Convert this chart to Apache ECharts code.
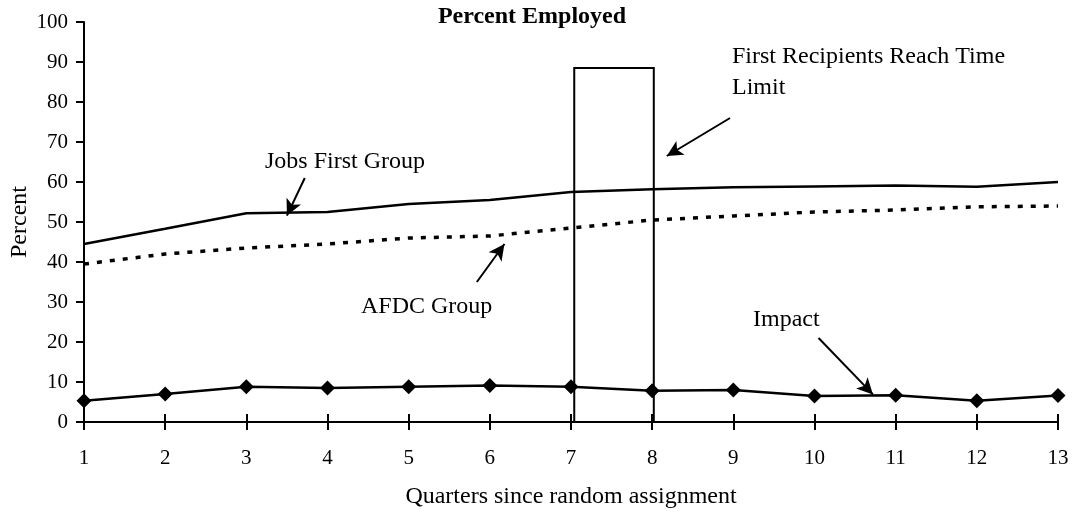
<!DOCTYPE html>
<html>
<head>
<meta charset="utf-8">
<script src="https://cdn.jsdelivr.net/npm/echarts@6/dist/echarts.min.js"></script>
<style>html,body{margin:0;padding:0;background:#fff}#c{width:1073px;height:513px}</style>
</head>
<body>
<div id="c"></div>
<script>
var quarters = [1,2,3,4,5,6,7,8,9,10,11,12,13];
var jobsFirst = [44.5,48.3,52.2,52.5,54.5,55.5,57.5,58.2,58.7,58.9,59.1,58.8,60.0];
var afdc = [39.5,42.0,43.5,44.5,46.0,46.5,48.5,50.5,51.5,52.5,53.0,53.8,54.0];
var impact = [5.3,7.0,8.8,8.5,8.8,9.1,8.8,7.8,8.0,6.5,6.7,5.3,6.6];
var timeLimitBox = [7.04, 8.02, 88.5]; // x start, x end, height
var yTicks = [0,10,20,30,40,50,60,70,80,90,100];
// annotation arrows in data coordinates: [fromX, fromY, toX, toY]
var arrows = [
  [3.72, 61.0, 3.50, 51.6],
  [5.84, 35.0, 6.18, 44.5],
  [8.96, 76.0, 8.18, 66.5],
  [10.05, 21.0, 10.72, 6.9]
];

var FONT = 'Liberation Serif';
function pairs(ys){ return quarters.map(function(q,i){ return [q, ys[i]]; }); }

var chart = echarts.init(document.getElementById('c'));
chart.setOption({
  animation: false,
  backgroundColor: '#fff',
  grid: { left: 84, right: 15, top: 22, bottom: 91, containLabel: false, outerBoundsMode: 'none' },
  xAxis: [{
    type: 'value', min: 1, max: 13, interval: 1,
    name: 'Quarters since random assignment', nameLocation: 'middle', nameGap: 63,
    nameMoveOverlap: false,
    nameTextStyle: { fontFamily: FONT, fontSize: 24, color: '#000' },
    axisLine: { lineStyle: { color: '#000', width: 2 } },
    axisTick: { show: true, length: 8, lineStyle: { color: '#000', width: 2 } },
    axisLabel: { fontFamily: FONT, fontSize: 21, color: '#000', margin: 26 },
    splitLine: { show: false }
  }, {
    type: 'value', min: 1, max: 13, interval: 1, position: 'bottom',
    axisLine: { show: false },
    axisTick: { show: true, inside: true, length: 8, lineStyle: { color: '#000', width: 2 } },
    axisLabel: { show: false },
    splitLine: { show: false }
  }],
  yAxis: {
    type: 'value', min: 0, max: 100, interval: 10,
    name: 'Percent', nameLocation: 'middle', nameGap: 52,
    nameMoveOverlap: false,
    nameTextStyle: { fontFamily: FONT, fontSize: 24, color: '#000' },
    axisLine: { show: true, lineStyle: { color: '#000', width: 2 } },
    axisTick: { show: true, length: 8, lineStyle: { color: '#000', width: 2 } },
    axisLabel: { fontFamily: FONT, fontSize: 21, color: '#000', margin: 16,
      formatter: function(v){ return yTicks.indexOf(v) >= 0 ? String(v) : ''; } },
    splitLine: { show: false }
  },
  graphic: [
    { type: 'text', x: 532, y: 17, style: { text: 'Percent Employed', fontFamily: FONT, fontSize: 24, fontWeight: 'bold', fill: '#000', textAlign: 'center', textVerticalAlign: 'middle' } },
    { type: 'text', x: 265, y: 162, style: { text: 'Jobs First Group', fontFamily: FONT, fontSize: 24, fill: '#000', textAlign: 'left', textVerticalAlign: 'middle' } },
    { type: 'text', x: 361, y: 307, style: { text: 'AFDC Group', fontFamily: FONT, fontSize: 24, fill: '#000', textAlign: 'left', textVerticalAlign: 'middle' } },
    { type: 'text', x: 732, y: 57, style: { text: 'First Recipients Reach Time', fontFamily: FONT, fontSize: 24, fill: '#000', textAlign: 'left', textVerticalAlign: 'middle' } },
    { type: 'text', x: 732, y: 88, style: { text: 'Limit', fontFamily: FONT, fontSize: 24, fill: '#000', textAlign: 'left', textVerticalAlign: 'middle' } },
    { type: 'text', x: 753, y: 320, style: { text: 'Impact', fontFamily: FONT, fontSize: 24, fill: '#000', textAlign: 'left', textVerticalAlign: 'middle' } }
  ],
  series: [
    {
      name: 'Jobs First Group', type: 'line', data: pairs(jobsFirst),
      symbol: 'none', lineStyle: { color: '#000', width: 2.5 },
      markArea: {
        silent: true,
        itemStyle: { color: 'rgba(0,0,0,0)', borderColor: '#000', borderWidth: 2 },
        data: [[{ coord: [timeLimitBox[0], 0] }, { coord: [timeLimitBox[1], timeLimitBox[2]] }]]
      },
      markLine: {
        silent: true, symbol: ['none', 'arrow'], symbolSize: [12, 16],
        label: { show: false },
        lineStyle: { color: '#000', width: 2, type: 'solid' },
        data: arrows.map(function(a){ return [{ coord: [a[0], a[1]] }, { coord: [a[2], a[3]] }]; })
      }
    },
    {
      name: 'AFDC Group', type: 'line', data: pairs(afdc),
      symbol: 'none', lineStyle: { color: '#000', width: 3.5, type: [5, 8] }
    },
    {
      name: 'Impact', type: 'line', data: pairs(impact),
      symbol: 'diamond', symbolSize: 15, itemStyle: { color: '#000' },
      lineStyle: { color: '#000', width: 2.5 }
    }
  ]
});
</script>
</body>
</html>
